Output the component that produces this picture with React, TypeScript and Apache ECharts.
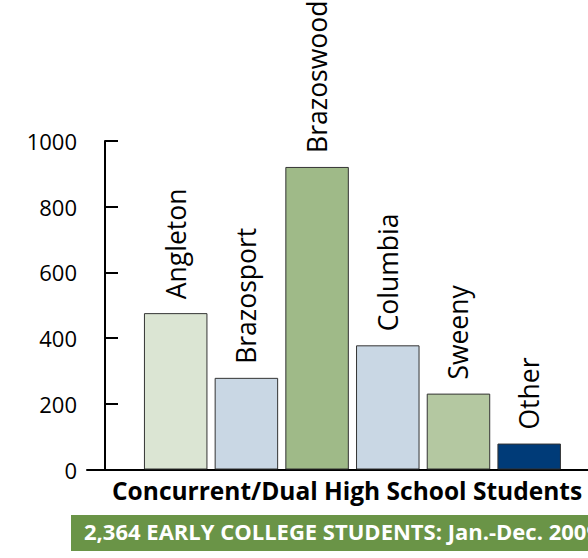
import React, { useEffect, useRef } from "react";
import * as echarts from "echarts";

const categories = ["Angleton", "Brazosport", "Brazoswood", "Columbia", "Sweeny", "Other"];
const values = [476, 279, 921, 378, 231, 79];
const barColors = ["#dbe5d3", "#c9d7e4", "#9fba88", "#c9d7e4", "#b4c8a1", "#003b78"];
const yTicks = { min: 0, max: 1000, interval: 200 };
const xTitle = "Concurrent/Dual High School Students";
const banner = "2,364 EARLY COLLEGE STUDENTS: Jan.-Dec. 2009";

const FONT = "'Open Sans', 'Noto Sans', sans-serif";

export default function App() {
  const ref = useRef<HTMLDivElement>(null);
  useEffect(() => {
    if (!ref.current) return;
    const chart = echarts.init(ref.current, null, { renderer: "svg" });
    const data = categories.map((c, i) => ({
      name: c,
      value: [i + 1, values[i]],
      itemStyle: { color: barColors[i] },
    }));
    chart.setOption({
      animation: false,
      grid: { left: 87, right: 0, top: 141, bottom: 88.5 },
      xAxis: {
        type: "value",
        min: -0.2546,
        max: 6.832,
        axisLine: { show: true, lineStyle: { color: "#000", width: 2 } },
        axisTick: { show: false },
        axisLabel: { show: false },
        splitLine: { show: false },
      },
      yAxis: {
        type: "value",
        min: yTicks.min,
        max: yTicks.max,
        interval: yTicks.interval,
        axisLine: { show: true, lineStyle: { color: "#000", width: 2 } },
        axisTick: { show: true, inside: true, length: 13, lineStyle: { color: "#000", width: 2 } },
        axisLabel: {
          color: "#000",
          fontSize: 22,
          fontFamily: FONT,
          margin: 10,
          formatter: (v: number) => String(v),
        },
        splitLine: { show: false },
      },
      series: [
        {
          type: "bar",
          data,
          barWidth: 63.5,
          itemStyle: { borderColor: "#333", borderWidth: 1 },
          label: {
            show: true,
            position: "top",
            rotate: 90,
            align: "left",
            verticalAlign: "middle",
            distance: 14,
            formatter: "{b}",
            color: "#000",
            fontSize: 26.5,
            fontFamily: FONT,
          },
        },
      ],
      graphic: [
        {
          type: "text",
          left: 112,
          top: 478,
          style: {
            text: xTitle,
            fill: "#000",
            font: `bold 24.5px ${FONT}`,
          },
        },
        {
          type: "rect",
          shape: { x: 71, y: 515, width: 600, height: 36 },
          style: { fill: "#6a9447" },
        },
        {
          type: "text",
          left: 84,
          top: 520,
          style: {
            text: banner,
            fill: "#fff",
            font: `bold 22px ${FONT}`,
          },
        },
      ],
    });
    return () => chart.dispose();
  }, []);
  return (
    <div
      ref={ref}
      style={{ position: "absolute", left: 0, top: 0, width: 588, height: 558, background: "#fff" }}
    />
  );
}
